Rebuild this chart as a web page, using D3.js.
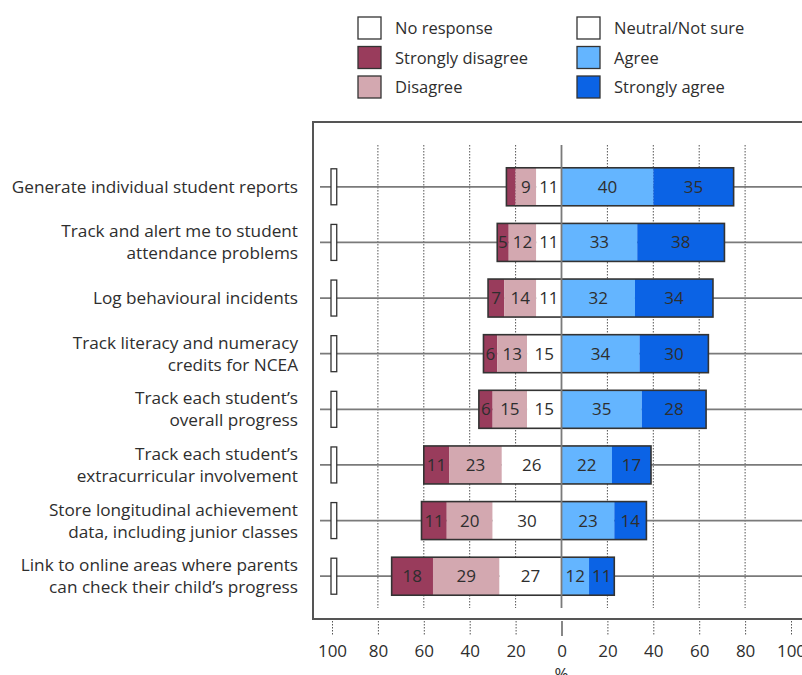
<!DOCTYPE html>
<html><head><meta charset="utf-8">
<script src="https://cdn.jsdelivr.net/npm/d3@7"></script>
<style>body{margin:0;background:#fff;} svg{display:block;font-family:"Open Sans","Noto Sans",Arial,sans-serif;}</style>
</head><body>
<svg id="c" width="802" height="675"></svg>
<script>
const categories = [
  ["Generate individual student reports"],
  ["Track and alert me to student","attendance problems"],
  ["Log behavioural incidents"],
  ["Track literacy and numeracy","credits for NCEA"],
  ["Track each student\u2019s","overall progress"],
  ["Track each student\u2019s","extracurricular involvement"],
  ["Store longitudinal achievement","data, including junior classes"],
  ["Link to online areas where parents","can check their child\u2019s progress"]
];
const noResponse      = [2.5, 2.5, 2.5, 2.5, 2.5, 2.5, 2.5, 2.5];
const stronglyDisagree = [4, 5, 7, 6, 6, 11, 11, 18];
const disagree         = [9, 12, 14, 13, 15, 23, 20, 29];
const neutral          = [11, 11, 11, 15, 15, 26, 30, 27];
const agree            = [40, 33, 32, 34, 35, 22, 23, 12];
const stronglyAgree    = [35, 38, 34, 30, 28, 17, 14, 11];
const tickValues = [-100, -80, -60, -40, -20, 0, 20, 40, 60, 80, 100];
const legendItems = ["No response","Strongly disagree","Disagree","Neutral/Not sure","Agree","Strongly agree"];
const colors = {
  "No response":"#ffffff","Strongly disagree":"#993c5c","Disagree":"#d3a8b0",
  "Neutral/Not sure":"#ffffff","Agree":"#64b5ff","Strongly agree":"#0b63e5"
};

const svg = d3.select("#c");
const textCol = "#2e2e2e";
const fs = 16.5;
const x = d3.scaleLinear().domain([-100, 100]).range([332, 791]);
const y = d3.scaleBand().domain(d3.range(categories.length)).range([159, 604]).paddingInner(0.317).paddingOuter(0.158);

// legend
const lg = svg.append("g");
legendItems.forEach((name, i) => {
  const col = Math.floor(i / 3), row = i % 3;
  const gx = col === 0 ? 358 : 577, gy = 17 + row * 29.5;
  lg.append("rect").attr("x", gx).attr("y", gy).attr("width", 23).attr("height", 22)
    .attr("fill", colors[name]).attr("stroke", "#333").attr("stroke-width", 1.3);
  lg.append("text").attr("x", gx + 37).attr("y", gy + 17).attr("fill", textCol)
    .attr("font-size", fs).text(name);
});

// frame
svg.append("rect").attr("x", 313).attr("y", 122).attr("width", 520).attr("height", 497)
  .attr("fill", "none").attr("stroke", "#555").attr("stroke-width", 2);

// gridlines
const gridVals = tickValues.filter(v => v !== 0 && Math.abs(v) !== 100);
svg.append("g").selectAll("line").data(gridVals).join("line")
  .attr("x1", d => x(d)).attr("x2", d => x(d)).attr("y1", 145).attr("y2", 608)
  .attr("stroke", "#555").attr("stroke-width", 1).attr("stroke-dasharray", "1.5,1.5");

// row lines
svg.append("g").selectAll("line").data(categories).join("line")
  .attr("x1", 320).attr("x2", 812)
  .attr("y1", (d, i) => y(i) + y.bandwidth() / 2).attr("y2", (d, i) => y(i) + y.bandwidth() / 2)
  .attr("stroke", "#7a7a7a").attr("stroke-width", 1.8);

// bars
const rows = categories.map((c, i) => {
  const neg = [["Strongly disagree", stronglyDisagree[i]], ["Disagree", disagree[i]], ["Neutral/Not sure", neutral[i]]];
  const pos = [["Agree", agree[i]], ["Strongly agree", stronglyAgree[i]]];
  const totalNeg = stronglyDisagree[i] + disagree[i] + neutral[i];
  let segs = [], cur = -totalNeg;
  neg.forEach(([k, v]) => { segs.push({k, v, x0: cur, x1: cur + v}); cur += v; });
  cur = 0;
  pos.forEach(([k, v]) => { segs.push({k, v, x0: cur, x1: cur + v}); cur += v; });
  return {i, segs, left: -totalNeg, right: cur};
});

const bg = svg.append("g");
rows.forEach(r => {
  const yy = y(r.i), h = y.bandwidth();
  bg.selectAll(null).data(r.segs).join("rect")
    .attr("x", d => x(d.x0)).attr("width", d => x(d.x1) - x(d.x0))
    .attr("y", yy).attr("height", h).attr("fill", d => colors[d.k]);
  bg.append("rect").attr("x", x(r.left)).attr("y", yy).attr("width", x(r.right) - x(r.left))
    .attr("height", h).attr("fill", "none").attr("stroke", "#333").attr("stroke-width", 1.6);
  bg.selectAll(null).data(r.segs.filter(d => d.v >= 5)).join("text")
    .attr("x", d => (x(d.x0) + x(d.x1)) / 2).attr("y", yy + h / 2 + 6)
    .attr("text-anchor", "middle").attr("font-size", 17).attr("fill", textCol)
    .text(d => d.v);
  // no response
  bg.append("rect").attr("x", x(-100) - 1).attr("width", x(-100 + noResponse[r.i]) - x(-100))
    .attr("y", yy + 1).attr("height", h - 2).attr("fill", "#fff").attr("stroke", "#333").attr("stroke-width", 1.3);
});

// zero line
svg.append("line").attr("x1", x(0)).attr("x2", x(0)).attr("y1", 145).attr("y2", 608)
  .attr("stroke", "#7a7a7a").attr("stroke-width", 1.8);

// axis
const axis = d3.axisBottom(x).tickValues(tickValues).tickFormat(d => Math.abs(d)).tickSize(15).tickPadding(9);
const ag = svg.append("g").attr("transform", "translate(0,621)").call(axis);
ag.select(".domain").remove();
ag.selectAll(".tick line").attr("stroke", d => d === 0 ? "#7a7a7a" : "#555")
  .attr("stroke-width", d => d === 0 ? 1.8 : 1).attr("stroke-dasharray", d => d === 0 ? null : "1.5,1.5");
ag.selectAll(".tick text").attr("font-size", 17).attr("fill", textCol).attr("font-family", "Open Sans, Noto Sans, Arial, sans-serif");
svg.append("text").attr("x", x(0)).attr("y", 680).attr("text-anchor", "middle").attr("font-size", 17).attr("fill", textCol).text("%");

// category labels
const lab = svg.append("g");
categories.forEach((lines, i) => {
  const cy = y(i) + y.bandwidth() / 2;
  const n = lines.length;
  const t = lab.append("text").attr("text-anchor", "end").attr("font-size", 17.2).attr("fill", textCol);
  lines.forEach((ln, j) => {
    t.append("tspan").attr("x", 298).attr("y", cy + 6 + (j - (n - 1) / 2) * 22).text(ln);
  });
});
</script>
</body></html>
